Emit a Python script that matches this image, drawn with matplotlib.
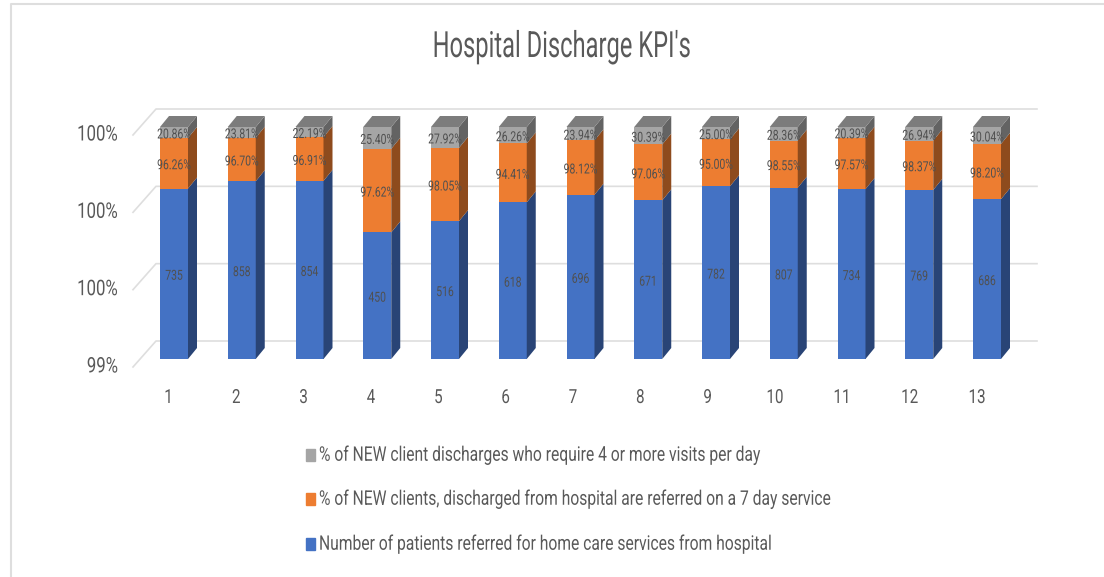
import matplotlib

matplotlib.use("Agg")

from matplotlib import pyplot as plt
from matplotlib.colors import to_rgb
from matplotlib.lines import Line2D
from matplotlib.patheffects import AbstractPathEffect
from matplotlib.transforms import Affine2D

plt.rcParams["font.family"] = ["Roboto", "DejaVu Sans"]

# values
weeks = list(range(1, 14))
patients = [735, 858, 854, 450, 516, 618, 696, 671, 782, 807, 734, 769, 686]
seven_day = [96.26, 96.70, 96.91, 97.62, 98.05, 94.41, 98.12, 97.06, 95.00, 98.55, 97.57, 98.37, 98.20]
four_visits = [20.86, 23.81, 22.19, 25.40, 27.92, 26.26, 23.94, 30.39, 25.00, 28.36, 20.39, 26.94, 30.04]
y_ticks = [0.994, 0.996, 0.998, 1.0]

title = "Hospital Discharge KPI's"
legend_labels = [
    "% of NEW client discharges who require 4 or more visits per day",
    "% of NEW clients, discharged from hospital are referred on a 7 day service",
    "Number of patients referred for home care services from hospital",
]

BLUE = "#4472c4"
ORANGE = "#ed7d31"
GRAY = "#a5a5a5"
TEXT = "#595959"
LABEL = "#505050"
GRID = "#dedede"

WIDTH, HEIGHT = 1104, 577
BAR_PX = 28
STEP_PX = 67.75
DEPTH_X, DEPTH_Y = 9, 11


class Squeeze(AbstractPathEffect):
    """Narrows text sideways, the reference font is a squashed Calibri."""

    def __init__(self, factor, anchor=0.5):
        super().__init__()
        self.factor = factor
        self.anchor = anchor

    def draw_path(self, renderer, gc, tpath, affine, rgbFace=None):
        xs = tpath.vertices[:, 0]
        pivot = xs.min() + (xs.max() - xs.min()) * self.anchor
        squeeze = Affine2D().translate(-pivot, 0).scale(self.factor, 1).translate(pivot, 0)
        renderer.draw_path(gc, tpath, squeeze + affine, rgbFace)


def shade(color, factor):
    return tuple(c * factor for c in to_rgb(color))


fig = plt.figure(figsize=(WIDTH / 100, HEIGHT / 100), dpi=100, facecolor="white")

# picture frame, only top and left survive the crop
fig.add_artist(
    Line2D(
        [11 / WIDTH, 11 / WIDTH, 1],
        [0, 1 - 4 / HEIGHT, 1 - 4 / HEIGHT],
        color=GRID,
        lw=1.5,
    )
)

# plot area lines up with the front faces of the bars
left = 174 - STEP_PX
right = left + STEP_PX * 14
top_px, base_px = 127, 359
ax = fig.add_axes(
    [left / WIDTH, 1 - base_px / HEIGHT, (right - left) / WIDTH, (base_px - top_px) / HEIGHT]
)
ax.set_xlim(0, 14)
ax.set_ylim(y_ticks[0], y_ticks[-1])
ax.axis("off")

unit_x = 1 / STEP_PX
unit_y = (y_ticks[-1] - y_ticks[0]) / (base_px - top_px)
dx = DEPTH_X * unit_x
dy = DEPTH_Y * unit_y
half = BAR_PX * unit_x / 2

# back wall gridlines and the floor diagonals
wall_x0 = (156 - left) * unit_x
wall_x1 = (1037 - left) * unit_x
front_x0 = (133 - left) * unit_x
for tick in y_ticks:
    wall_y = tick + 18 * unit_y
    front_y = tick - 8 * unit_y
    ax.plot([front_x0, wall_x0, wall_x1], [front_y, wall_y, wall_y], color=GRID, lw=1.2, clip_on=False, zorder=1)
    ax.text(
        (118 - left) * unit_x,
        front_y,
        f"{tick:.0%}",
        ha="right",
        va="center",
        color=TEXT,
        fontsize=15.5,
        clip_on=False,
        path_effects=[Squeeze(0.78, 1.0)],
    )

for i, week in enumerate(weeks):
    total = patients[i] + seven_day[i] / 100 + four_visits[i] / 100
    blue_top = patients[i] / total
    orange_top = (patients[i] + seven_day[i] / 100) / total
    segments = [
        (y_ticks[0], blue_top, BLUE),
        (blue_top, orange_top, ORANGE),
        (orange_top, 1.0, GRAY),
    ]
    x0, x1 = week - half, week + half
    for low, high, color in segments:
        ax.bar(week, high - low, BAR_PX * unit_x, bottom=low, color=color, zorder=3, clip_on=False)
        ax.fill(
            [x1, x1 + dx, x1 + dx, x1],
            [low, low + dy, high + dy, high],
            color=shade(color, 0.6),
            lw=0,
            zorder=3,
            clip_on=False,
        )
    ax.fill(
        [x0, x0 + dx, x1 + dx, x1],
        [1.0, 1.0 + dy, 1.0 + dy, 1.0],
        color=shade(GRAY, 0.75),
        lw=0,
        zorder=3,
        clip_on=False,
    )

    bar_labels = [
        (y_ticks[0], blue_top, str(patients[i])),
        (blue_top, orange_top, f"{seven_day[i]:.2f}%"),
        (orange_top, 1.0, f"{four_visits[i]:.2f}%"),
    ]
    for low, high, text in bar_labels:
        ax.text(
            week,
            (low + high) / 2 - 2 * unit_y,
            text,
            ha="center",
            va="center",
            color=LABEL,
            fontsize=10,
            zorder=4,
            path_effects=[Squeeze(0.75)],
        )

    # category labels drift slightly left of the bars
    ax.text(
        week - (5 + 0.4 * i) * unit_x,
        y_ticks[0] - 39 * unit_y,
        str(week),
        ha="center",
        va="center",
        color=TEXT,
        fontsize=14,
        clip_on=False,
        path_effects=[Squeeze(0.78)],
    )

fig.text(
    562 / WIDTH,
    1 - 47 / HEIGHT,
    title,
    ha="center",
    va="center",
    color=TEXT,
    fontsize=26,
    path_effects=[Squeeze(0.656)],
)

legend_y = [455, 499, 544]
for label, color, y in zip(legend_labels, [GRAY, ORANGE, BLUE], legend_y):
    fig.add_artist(
        plt.Rectangle((306 / WIDTH, 1 - (y + 6) / HEIGHT), 9 / WIDTH, 12 / HEIGHT, transform=fig.transFigure, color=color)
    )
    fig.text(
        319 / WIDTH,
        1 - y / HEIGHT,
        label,
        ha="left",
        va="center",
        color=TEXT,
        fontsize=14.5,
        path_effects=[Squeeze(0.777, 0.0)],
    )

fig.savefig("out.png", dpi=100)
